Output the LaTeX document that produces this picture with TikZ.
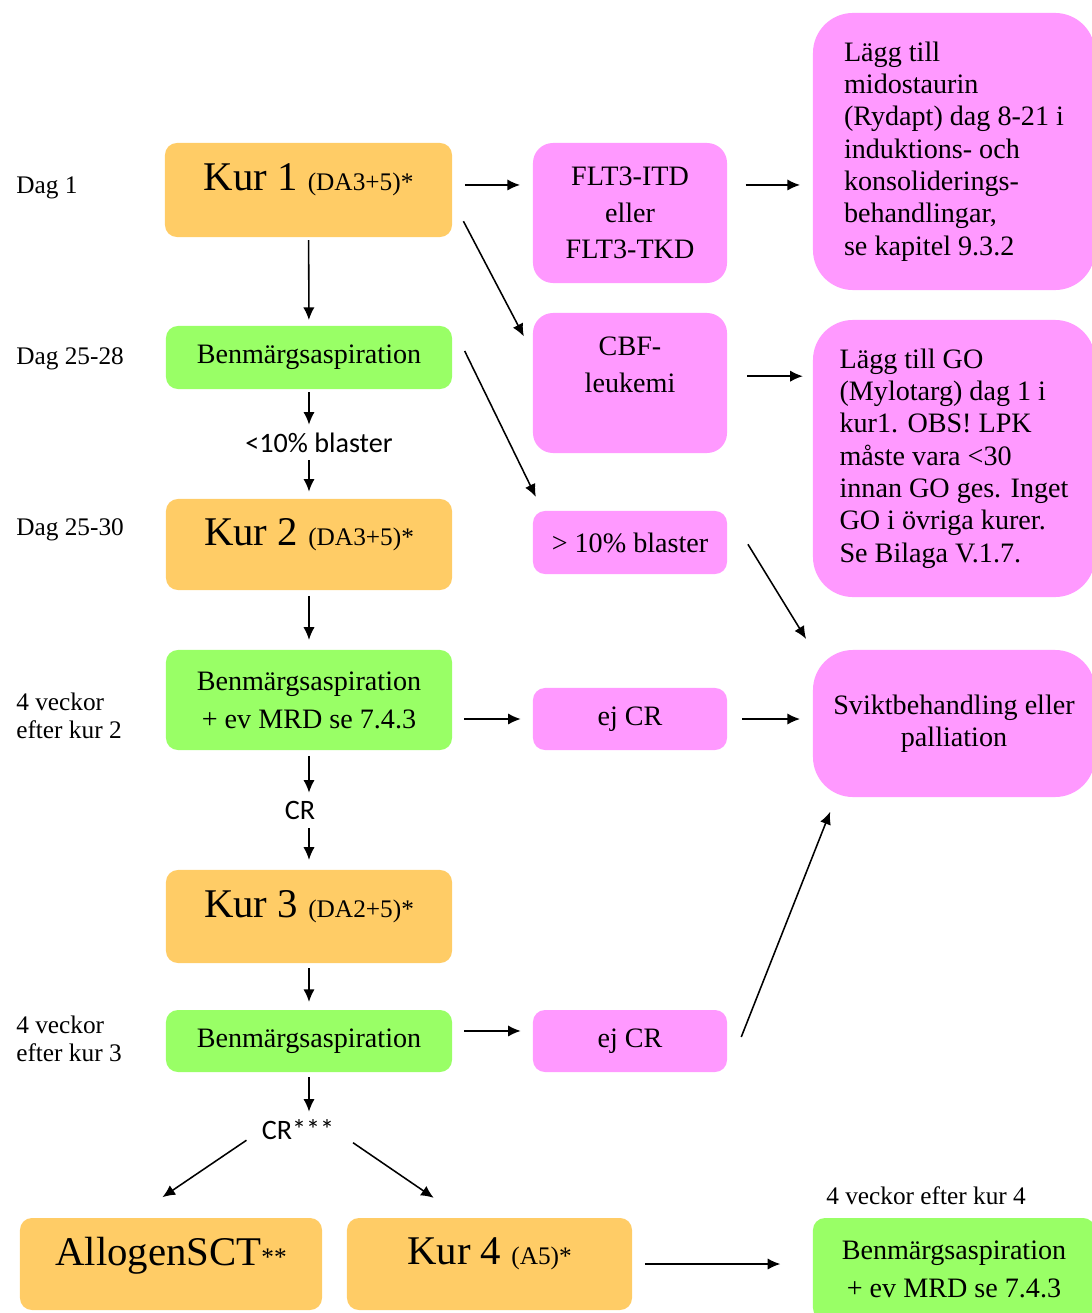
\documentclass[tikz,border=0pt]{standalone}
\usepackage{fontspec}
\setmainfont{Liberation Serif}
\newfontfamily\pilfont{Carlito}
\usetikzlibrary{arrows.meta}
\definecolor{kurorange}{RGB}{255,204,102}
\definecolor{benmgreen}{RGB}{153,255,102}
\definecolor{rosa}{RGB}{255,153,255}
\newcommand{\kursub}[1]{{\fontsize{18}{20}\selectfont #1}}

\begin{document}
\begin{tikzpicture}[x=0.025cm,y=-0.025cm]
	\tikzstyle{kur} = [rectangle,rounded corners=0.3cm,fill=kurorange,align=center,text depth=18pt,font=\fontsize{29}{34}\selectfont]
	\tikzstyle{benm} = [rectangle,rounded corners=0.3cm,fill=benmgreen,align=center,font=\fontsize{20}{27}\selectfont]
	\tikzstyle{rosabox} = [rectangle,rounded corners=0.3cm,fill=rosa,align=center,font=\fontsize{20}{26}\selectfont]
	\tikzstyle{info} = [rectangle,rounded corners=1cm,fill=rosa,align=left,font=\fontsize{20}{23}\selectfont]
	\tikzstyle{tid} = [anchor=west,align=left,inner sep=0pt,font=\fontsize{18}{19.5}\selectfont]
	\tikzstyle{pil} = [inner sep=0pt,font=\pilfont\fontsize{20}{22}\selectfont]
	\tikzstyle{edge} = [-{Latex[length=9pt,width=8pt]},line width=1.1pt]
	\useasboundingbox (0,0) rectangle (1091,1313);

	% tidpunkter
	\node[tid] (d1) at (16,188) {Dag 1};
	\node[tid] (d2) at (16,359) {Dag 25-28};
	\node[tid] (d3) at (16,530) {Dag 25-30};
	\node[tid] (v2) at (16,716) {4 veckor\\efter kur 2};
	\node[tid] (v3) at (16,1039) {4 veckor\\efter kur 3};
	\node[tid] (v4) at (826,1196) {4 veckor efter kur 4};

	% mittkolumnen
	\node[kur,minimum width=7.175cm,minimum height=2.35cm] (k1) at (308.5,190) {Kur 1 \kursub{(DA3+5)*}};
	\node[benm,minimum width=7.15cm,minimum height=1.575cm] (b1) at (309,357.5) {Benmärgsaspiration};
	\node[pil,minimum height=0.875cm] (l10) at (319,442.5) {<10\% blaster};
	\node[kur,minimum width=7.15cm,minimum height=2.275cm] (k2) at (309,544.5) {Kur 2 \kursub{(DA3+5)*}};
	\node[benm,minimum width=7.15cm,minimum height=2.5cm] (b2) at (309,700) {Benmärgsaspiration\\+ ev MRD se 7.4.3};
	\node[pil,minimum height=0.875cm] (cr) at (300,810.5) {CR};
	\node[kur,minimum width=7.15cm,minimum height=2.325cm] (k3) at (309,916.5) {Kur 3 \kursub{(DA2+5)*}};
	\node[benm,minimum width=7.15cm,minimum height=1.55cm] (b3) at (309,1041) {Benmärgsaspiration};
	\node[pil,minimum height=0.9cm] (crs) at (298,1130) {CR***};
	\node[kur,minimum width=7.55cm,minimum height=2.3cm] (allo) at (171,1264) {AllogenSCT\kursub{**}};
	\node[kur,minimum width=7.125cm,minimum height=2.3cm] (k4) at (489.5,1264) {Kur 4 \kursub{(A5)*}};
	\node[benm,minimum width=7.05cm,minimum height=2.55cm] (b4) at (954,1269) {Benmärgsaspiration\\+ ev MRD se 7.4.3};

	% rosa rutor
	\node[rosabox,rounded corners=0.5cm,minimum width=4.85cm,minimum height=3.5cm] (flt) at (630,213) {FLT3-ITD\\eller\\FLT3-TKD};
	\node[rosabox,rounded corners=0.5cm,minimum width=4.85cm,minimum height=3.5cm] (cbf) at (630,383) {CBF-\\leukemi\\~};
	\node[rosabox,minimum width=4.85cm,minimum height=1.575cm] (blast) at (630,542.5) {> 10\% blaster};
	\node[rosabox,minimum width=4.85cm,minimum height=1.55cm] (ej1) at (630,719) {ej CR};
	\node[rosabox,minimum width=4.85cm,minimum height=1.55cm] (ej2) at (630,1041) {ej CR};
	\node[info,minimum width=7.05cm,minimum height=6.925cm] (mido) at (954,151.5) {Lägg till\\midostaurin\\(Rydapt) dag 8-21 i\\induktions- och\\konsoliderings-\\behandlingar,\\se kapitel 9.3.2};
	\node[info,minimum width=7.05cm,minimum height=6.925cm] (go) at (954,458.5) {Lägg till GO\\(Mylotarg) dag 1 i\\kur1. OBS! LPK\\måste vara <30\\innan GO ges. Inget\\GO i övriga kurer.\\Se Bilaga V.1.7.};
	\node[info,align=center,minimum width=7.05cm,minimum height=3.675cm] (svikt) at (954,723.5) {Sviktbehandling eller\\palliation};

	\draw[edge,shorten <=2pt,shorten >=4pt] (k1) -- (b1);
	\draw[edge,shorten <=2pt] (b1) -- (b1 |- l10.north);
	\draw[edge,shorten >=5pt] (b1 |- l10.south) -- (k2);
	\draw[edge,shorten <=4pt,shorten >=7pt] (k2) -- (b2);
	\draw[edge,shorten <=4pt] (b2) -- (b2 |- cr.north);
	\draw[edge,shorten >=7pt] (b2 |- cr.south) -- (k3);
	\draw[edge,shorten <=3.5pt,shorten >=5.5pt] (k3) -- (b3);
	\draw[edge,shorten <=3.5pt] (b3) -- (b3 |- crs.north);
	\draw[edge,shorten <=13pt,shorten >=26pt] (crs.west) -- (allo.130);
	\draw[edge,shorten <=16pt,shorten >=25pt] (crs.east) -- (k4.120);
	\draw[edge,shorten <=9pt,shorten >=23pt] (k4.east) -- (k4.east -| b4.west);

	\draw[edge,shorten <=9pt,shorten >=9pt] (k1.2) -- (k1.2 -| flt.west);
	\draw[edge,shorten <=13pt,shorten >=9pt] (k1.2 -| flt.east) -- (k1.2 -| mido.west);
	\draw[edge,shorten <=17pt,shorten >=13.5pt] (k1.-4) -- (cbf.163);
	\draw[edge,shorten <=14pt,shorten >=7pt] (cbf.4) -- (cbf.4 -| go.west);
	\draw[edge,shorten <=20pt,shorten >=11pt] (b1.north east) -- (blast.160);
	\draw[edge,shorten <=28pt,shorten >=9pt] (blast.north east) -- (svikt.north west);
	\draw[edge,shorten <=8.5pt,shorten >=8.5pt] (ej1.west -| b2.east) -- (ej1.west);
	\draw[edge,shorten <=10.7pt,shorten >=9pt] (ej1.east) -- (ej1.east -| svikt.west);
	\draw[edge,shorten <=8.5pt,shorten >=8.5pt] (b3.4) -- (b3.4 -| ej2.west);
	\draw[edge,shorten <=27pt,shorten >=11pt] (ej2.south east) -- (svikt.212);
\end{tikzpicture}
\end{document}
